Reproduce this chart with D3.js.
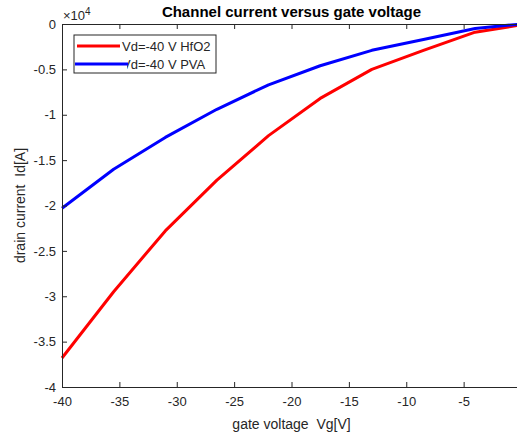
<!DOCTYPE html>
<html>
<head>
<meta charset="utf-8">
<script src="https://cdn.jsdelivr.net/npm/d3@7"></script>
<style>
  body { margin: 0; background: #fff; }
  svg { display: block; font-family: "Liberation Sans", Arial, sans-serif; }
  text { white-space: pre; }
</style>
</head>
<body>
<div id="chart"></div>
<script>
// gate voltage (V) and drain current (A)
const vg = [-40, -35.5, -31, -26.5, -22, -17.5, -13, -8.5, -4, 0];
const idHfO2 = [-36800, -29500, -22800, -17200, -12300, -8200, -5000, -2900, -900, -100];
const idPVA = [-20300, -16000, -12500, -9400, -6700, -4600, -2900, -1700, -500, 0];
const xTicks = [-40, -35, -30, -25, -20, -15, -10, -5, 0];
const yTicks = [0, -5000, -10000, -15000, -20000, -25000, -30000, -35000, -40000];
const series = [
  { label: 'Vd=-40 V HfO2', color: '#ff0000', values: idHfO2 },
  { label: 'Vd=-40 V PVA', color: '#0000ff', values: idPVA },
];

const W = 517, H = 436;
const margin = { top: 24, right: -4, bottom: 49, left: 62 };
const iw = W - margin.left - margin.right;
const ih = H - margin.top - margin.bottom;
const axisColor = '#262626';

const svg = d3.select('#chart').append('svg').attr('width', W).attr('height', H);
const g = svg.append('g').attr('transform', `translate(${margin.left},${margin.top})`);

const x = d3.scaleLinear().domain([-40, 0]).range([0, iw]);
const y = d3.scaleLinear().domain([-40000, 0]).range([ih, 0]);

// lines
const line = d3.line().x((d, i) => x(vg[i])).y(d => y(d));
series.forEach(s => {
  g.append('path').datum(s.values)
    .attr('fill', 'none').attr('stroke', s.color).attr('stroke-width', 3)
    .attr('stroke-linejoin', 'round').attr('d', line);
});

// axes (ticks inward, like matlab)
const styleAxis = sel => sel
  .call(a => a.select('.domain').attr('stroke', axisColor))
  .call(a => a.selectAll('.tick line').attr('stroke', axisColor))
  .call(a => a.selectAll('.tick text').attr('fill', axisColor).attr('font-size', '13px'));

g.append('g').attr('transform', `translate(0,${ih})`)
  .call(d3.axisBottom(x).tickValues(xTicks).tickSizeInner(-5).tickSizeOuter(0).tickPadding(10).tickFormat(d => String(d)))
  .call(styleAxis);
g.append('g')
  .call(d3.axisTop(x).tickValues(xTicks).tickSizeInner(-5).tickSizeOuter(0).tickFormat(''))
  .call(styleAxis);
g.append('g')
  .call(d3.axisLeft(y).tickValues(yTicks).tickSizeInner(-5).tickSizeOuter(0).tickPadding(6)
    .tickFormat(d => String(d / 10000)))
  .call(styleAxis);

// exponent
const ex = svg.append('text').attr('x', margin.left + 1).attr('y', 20)
  .attr('fill', axisColor).attr('font-size', '13px');
ex.append('tspan').text('\u00d710');
ex.append('tspan').attr('dy', -5).attr('font-size', '10px').text('4');

// title & labels
svg.append('text').attr('x', margin.left + iw / 2).attr('y', 17)
  .attr('text-anchor', 'middle').attr('font-weight', 'bold').attr('font-size', '15px')
  .attr('fill', '#000').text('Channel current versus gate voltage');
svg.append('text').attr('x', margin.left + iw / 2).attr('y', 429)
  .attr('text-anchor', 'middle').attr('font-size', '14px').attr('fill', axisColor)
  .text('gate voltage  Vg[V]');
svg.append('text').attr('transform', `translate(25,${margin.top + ih / 2}) rotate(-90)`)
  .attr('text-anchor', 'middle').attr('font-size', '14px').attr('fill', axisColor)
  .text('drain current  Id[A]');

// legend
const lg = svg.append('g').attr('transform', 'translate(74,35)');
lg.append('rect').attr('width', 142).attr('height', 38)
  .attr('fill', '#fff').attr('stroke', axisColor).attr('stroke-width', 1);
series.forEach((s, i) => {
  const ly = 11 + i * 18;
  lg.append('text').attr('x', 48).attr('y', ly + 5).attr('font-size', '13px')
    .attr('fill', axisColor).text(s.label);
  if (i === 1) {
    lg.append('rect').attr('x', 48).attr('y', ly - 7).attr('width', 5).attr('height', 14).attr('fill', '#fff');
  }
  lg.append('line').attr('x1', i === 0 ? 3 : 1).attr('x2', i === 0 ? 46 : 54)
    .attr('y1', ly).attr('y2', ly).attr('stroke', s.color).attr('stroke-width', 3);
});
</script>
</body>
</html>
